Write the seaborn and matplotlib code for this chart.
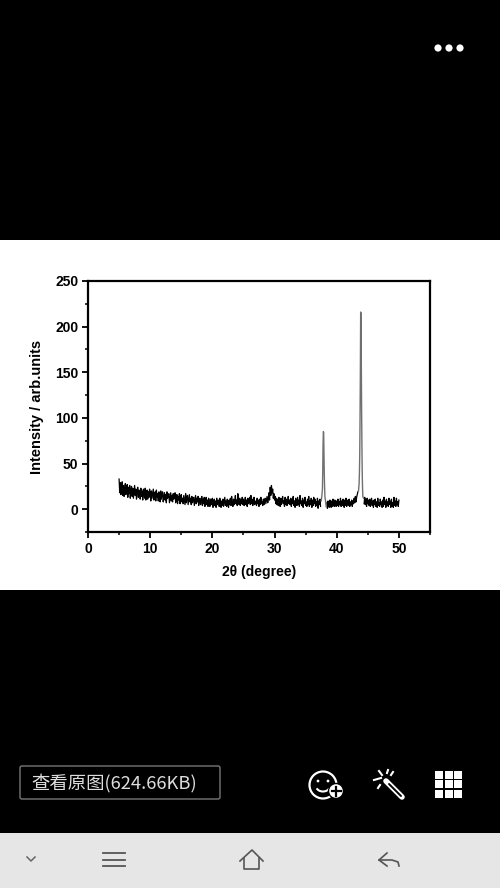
import numpy as np
import pandas as pd
import matplotlib
matplotlib.use('Agg')
import matplotlib.pyplot as plt
from matplotlib.patches import Rectangle, FancyBboxPatch, Circle, Arc
import seaborn as sns

# 5 to 37.4 deg in 0.1 steps
low_angle = [
    33, 18, 29, 16, 24, 30, 15, 26, 14, 22,
    28, 16, 20, 27, 13, 24, 17, 26, 12, 21,
    25, 14, 23, 12, 19, 26, 15, 22, 11, 20,
    24, 13, 21, 18, 11, 23, 14, 20, 10, 22,
    17, 12, 23, 10, 18, 21, 11, 19, 13, 22,
    18, 9, 20, 12, 17, 22, 10, 15, 19, 9,
    21, 13, 17, 9, 19, 14, 8, 20, 11, 16,
    19, 8, 14, 18, 10, 16, 7, 19, 12, 15,
    17, 7, 13, 18, 9, 15, 8, 17, 11, 14,
    18, 7, 12, 16, 6, 14, 10, 17, 6, 13,
    16, 8, 12, 6, 15, 10, 5, 17, 7, 13,
    15, 5, 11, 16, 8, 12, 5, 14, 7, 11,
    13, 4, 10, 15, 6, 12, 8, 14, 4, 11,
    12, 5, 9, 14, 4, 11, 6, 13, 3, 9,
    13, 5, 10, 3, 12, 7, 3, 11, 5, 9,
    12, 2, 8, 11, 4, 9, 2, 12, 5, 8,
    10, 3, 12, 6, 2, 9, 4, 11, 3, 8,
    13, 4, 9, 3, 11, 6, 2, 10, 5, 12,
    4, 14, 7, 3, 11, 5, 9, 15, 6, 10,
    4, 17, 8, 5, 12, 4, 10, 6, 13, 5,
    11, 4, 8, 13, 5, 10, 3, 12, 6, 9,
    13, 5, 15, 6, 11, 4, 9, 13, 5, 8,
    9, 4, 12, 6, 10, 3, 11, 5, 13, 6,
    8, 4, 11, 5, 9,
    12, 6, 10, 14, 7, 11, 18, 10, 24, 15,
    26, 18, 22, 12, 17, 10, 14, 6, 12, 5,
    11, 4, 13, 7, 3, 12, 5, 10, 14, 6,
    9, 3, 13, 5, 11, 4, 8, 14, 6, 10,
    5, 12, 3, 11, 6, 14, 4, 9, 2, 12,
    7, 4, 13, 5, 10, 3, 15, 6, 9, 4,
    12, 2, 10, 6, 13, 4, 8, 3, 11, 5,
    14, 3, 9, 5, 12, 2, 10, 4, 13, 6,
    11, 3, 8, 4, 12, 1, 9, 5, 11, 3,
]
# first diffraction peak
peak_38_x = [37.5, 37.6, 37.7, 37.75, 37.8, 37.85, 37.9, 37.95, 38.0, 38.05, 38.1, 38.2, 38.3]
peak_38_y = [9, 14, 22, 40, 70, 85, 84, 60, 38, 24, 14, 9, 3]
# between the peaks
mid_x = [38.4, 38.5, 38.6, 38.7, 38.8, 38.9, 39.0, 39.1, 39.2, 39.3, 39.4, 39.5, 39.6, 39.7,
         39.8, 39.9, 40.0, 40.1, 40.2, 40.3, 40.4, 40.5, 40.6, 40.7, 40.8, 40.9, 41.0, 41.1,
         41.2, 41.3, 41.4, 41.5, 41.6, 41.7, 41.8, 41.9, 42.0, 42.1, 42.2, 42.3, 42.4, 42.5,
         42.6, 42.7, 42.8, 42.9, 43.0, 43.1, 43.2, 43.3, 43.4]
mid_y = [7, 1, 9, 4, 2, 10, 5, 2, 9, 3, 11, 5, 3, 10, 6, 3, 9, 4, 11, 3,
         8, 5, 12, 3, 9, 4, 11, 6, 2, 10, 4, 12, 3, 7, 10, 4, 11, 3, 8, 5,
         10, 3, 9, 6, 12, 7, 14, 8, 13, 16, 19]
# main peak
peak_44_x = [43.5, 43.6, 43.65, 43.7, 43.75, 43.8, 43.85, 43.9, 43.95, 44.0, 44.05, 44.1, 44.15, 44.2, 44.3]
peak_44_y = [20, 28, 40, 60, 100, 150, 216, 214, 165, 110, 70, 40, 24, 14, 12]
# tail
tail_x = [44.4, 44.5, 44.6, 44.7, 44.8, 44.9, 45.0, 45.1, 45.2, 45.3, 45.4, 45.5, 45.6, 45.7,
          45.8, 45.9, 46.0, 46.1, 46.2, 46.3, 46.4, 46.5, 46.6, 46.7, 46.8, 46.9, 47.0, 47.1,
          47.2, 47.3, 47.4, 47.5, 47.6, 47.7, 47.8, 47.9, 48.0, 48.1, 48.2, 48.3, 48.4, 48.5,
          48.6, 48.7, 48.8, 48.9, 49.0, 49.1, 49.2, 49.3, 49.4, 49.5, 49.6, 49.7, 49.8, 49.9, 50.0]
tail_y = [6, 13, 5, 11, 3, 12, 6, 10, 4, 11, 3, 8, 12, 4, 9, 2, 10, 5, 11, 3,
          8, 2, 12, 4, 7, 3, 11, 5, 8, 2, 10, 3, 13, 5, 9, 2, 11, 4, 8, 3,
          12, 5, 9, 2, 11, 3, 7, 2, 13, 4, 9, 3, 12, 5, 8, 3, 10]

x_ticks = [0, 10, 20, 30, 40, 50]
y_ticks = [0, 50, 100, 150, 200, 250]

low_x = list(np.round(5 + 0.1 * np.arange(len(low_angle)), 1))
noise_left = pd.DataFrame({'two_theta': low_x, 'intensity': low_angle})
noise_mid = pd.DataFrame({'two_theta': mid_x, 'intensity': mid_y})
noise_tail = pd.DataFrame({'two_theta': tail_x, 'intensity': tail_y})
peak_a = pd.DataFrame({'two_theta': peak_38_x, 'intensity': peak_38_y})
peak_b = pd.DataFrame({'two_theta': peak_44_x, 'intensity': peak_44_y})

W, H = 500, 888
plt.rcParams['font.family'] = ['Liberation Sans', 'DejaVu Sans']
fig = plt.figure(figsize=(W / 100, H / 100), dpi=100, facecolor='black')

# page overlay in pixel coordinates
bg = fig.add_axes([0, 0, 1, 1], zorder=0)
bg.set_xlim(0, W)
bg.set_ylim(H, 0)
bg.axis('off')
bg.add_patch(Rectangle((0, 240), W, 350, fc='white', lw=0))
bg.add_patch(Rectangle((0, 833), W, 55, fc='#e6e6e6', lw=0))

# more menu
for cx in [438, 449, 460]:
    bg.add_patch(Circle((cx, 48), 3.6, fc='white', lw=0))

# button
bg.add_patch(FancyBboxPatch((20, 766), 200, 33, boxstyle='round,pad=0,rounding_size=2',
                            fc='black', ec='#777777', lw=1))
bg.text(31, 783, '查看原图(624.66KB)', color='#dddddd', fontsize=13.2, va='center', ha='left',
        family=['Noto Sans CJK SC', 'DejaVu Sans'])

# smiley
bg.add_patch(Circle((323, 785), 13.5, fc='black', ec='white', lw=1.6))
bg.add_patch(Circle((318, 781), 1.4, fc='white', lw=0))
bg.add_patch(Circle((328, 781), 1.4, fc='white', lw=0))
bg.add_patch(Arc((323, 786), 14, 11, theta1=20, theta2=160, ec='white', lw=1.5))
bg.add_patch(Circle((336, 791), 7.5, fc='white', ec='black', lw=1))
bg.plot([331.5, 340.5], [791, 791], color='black', lw=1.6)
bg.plot([336, 336], [786.5, 795.5], color='black', lw=1.6)

# wand
bg.plot([386, 402], [781, 797], color='white', lw=4, solid_capstyle='round')
bg.plot([389, 401], [784, 796], color='black', lw=1.4, solid_capstyle='round')
bg.plot([374, 381], [780, 778], color='white', lw=1.5)
bg.plot([388, 387], [770, 773], color='white', lw=1.5)
bg.plot([379, 382], [771, 775], color='white', lw=1.5)
bg.plot([393, 391], [772, 775], color='white', lw=1.5)
bg.plot([378, 380], [788, 785], color='white', lw=1.5)

# grid icon
for gx in [435, 444.5, 454]:
    for gy in [770.5, 780, 789.5]:
        bg.add_patch(Rectangle((gx, gy), 8, 8, fc='white', lw=0))

# navigation bar
bg.plot([27, 31, 35], [857, 861, 857], color='#666666', lw=1.1)
for ly in [853, 860, 866]:
    bg.plot([103, 125], [ly, ly], color='#555555', lw=1.3)
bg.plot([240, 252, 263], [861, 850, 861], color='#555555', lw=1.2)
bg.plot([244, 244, 259, 259], [858, 869, 869, 858], color='#555555', lw=1.2)
bg.plot([387, 379, 387], [853, 860, 866], color='#555555', lw=1.2)
bg.plot([379, 392, 398, 399], [860, 860, 862, 866], color='#555555', lw=1.2)

# the XRD chart
ax = fig.add_axes([88 / W, 1 - 532 / H, 342 / W, 251 / H], zorder=1, facecolor='white')
for part in [noise_left, noise_mid, noise_tail]:
    sns.lineplot(x='two_theta', y='intensity', data=part, ax=ax, color='black', lw=0.9,
                 estimator=None, sort=False, errorbar=None)
for part in [peak_a, peak_b]:
    sns.lineplot(x='two_theta', y='intensity', data=part, ax=ax, color='#707070', lw=1.0,
                 estimator=None, sort=False, errorbar=None)
ax.set_xlim(0, 55)
ax.set_ylim(-25, 250)
ax.set_xticks(x_ticks)
ax.set_yticks(y_ticks)
ax.set_xticks([5, 15, 25, 35, 45, 55], minor=True)
ax.set_yticks([-25, 25, 75, 125, 175, 225], minor=True)
ax.tick_params(axis='both', which='major', length=4, width=1.3, labelsize=10, pad=3)
ax.tick_params(axis='both', which='minor', length=2.5, width=1.1)
for lab in ax.get_xticklabels() + ax.get_yticklabels():
    lab.set_fontweight('bold')
for s in ax.spines.values():
    s.set_linewidth(1.6)
ax.set_xlabel('2θ (degree)', fontsize=10, fontweight='bold', labelpad=7)
ax.set_ylabel('Intensity / arb.units', fontsize=10.5, fontweight='bold', labelpad=8)

fig.savefig('out.png', dpi=100, facecolor=fig.get_facecolor())
